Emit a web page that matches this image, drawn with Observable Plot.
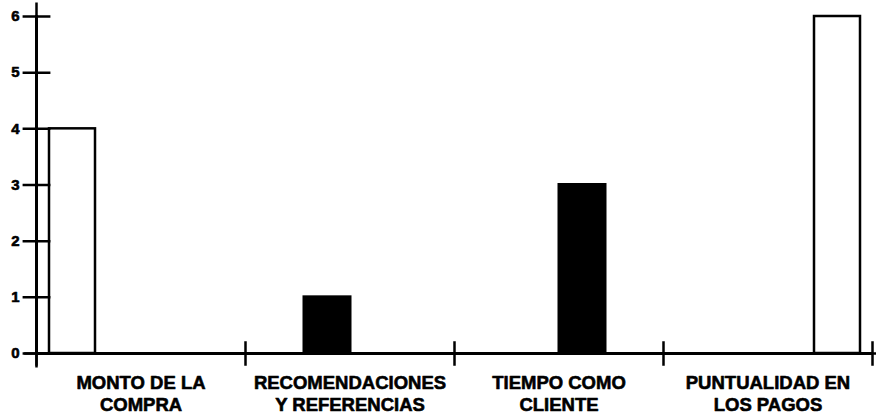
<!DOCTYPE html>
<html>
<head>
<meta charset="utf-8">
<script src="https://cdn.jsdelivr.net/npm/d3@7"></script>
<script src="https://cdn.jsdelivr.net/npm/@observablehq/plot@0.6"></script>
<style>
  html, body { margin: 0; padding: 0; background: #fff; }
</style>
</head>
<body>
<div id="chart"></div>
<script>
// Categories (two-line labels)
const categories = [
  "MONTO DE LA\nCOMPRA",
  "RECOMENDACIONES\nY REFERENCIAS",
  "TIEMPO COMO\nCLIENTE",
  "PUNTUALIDAD EN\nLOS PAGOS"
];
// Series (one per category position)
const seriesNames = ["S1", "S2", "S3", "S4"];
const seriesFill = ["white", "black", "black", "white"];
const s1 = [4, 0, 0, 0];
const s2 = [0, 1, 0, 0];
const s3 = [0, 0, 3, 0];
const s4 = [0, 0, 0, 6];
const yTicks = [0, 1, 2, 3, 4, 5, 6];

const seriesValues = [s1, s2, s3, s4];
const data = [];
seriesValues.forEach((vals, si) => {
  vals.forEach((v, ci) => {
    if (v > 0) data.push({category: categories[ci], series: seriesNames[si], value: v});
  });
});

const chart = Plot.plot({
  width: 876,
  height: 419,
  marginLeft: 35,
  marginRight: 3,
  marginTop: 16,
  marginBottom: 66,
  style: {fontFamily: "'Liberation Sans', Arial, sans-serif", background: "white", color: "black"},
  fx: {domain: categories, padding: 0},
  x: {domain: seriesNames, paddingInner: 0, paddingOuter: 0.24, axis: null},
  y: {domain: [0, 6]},
  color: {domain: seriesNames, range: seriesFill},
  marks: [
    Plot.barY(data, {
      fx: "category", x: "series", y: "value",
      fill: "series",
      stroke: "black",
      strokeWidth: d => d.series === "S1" || d.series === "S4" ? 2.5 : 3
    }),
    Plot.ruleY([0], {stroke: "black", strokeWidth: 3}),
    Plot.frame({anchor: "left", stroke: "black", strokeWidth: 3, facetAnchor: "left"}),
    Plot.dot(yTicks, {y: d => d, frameAnchor: "left", symbol: "plus", r: 9, stroke: "black", strokeWidth: 2.5, facetAnchor: "left"}),
    Plot.dot(categories, {fx: d => d, frameAnchor: "bottom-left", symbol: "plus", r: 8, stroke: "black", strokeWidth: 2.5}),
    Plot.dot([0], {frameAnchor: "bottom-right", symbol: "plus", r: 8, stroke: "black", strokeWidth: 2.5, facetAnchor: "right"}),
    Plot.axisY({ticks: yTicks, tickSize: 0, tickPadding: 17, fontSize: 15, fontWeight: "bold", label: null,
      textStroke: "black", textStrokeWidth: 0.6, tickFormat: d => String(d)}),
    Plot.axisFx({anchor: "bottom", tickSize: 0, tickPadding: 20, fontSize: 18.5, fontWeight: "bold", lineHeight: 1.2,
      textStroke: "black", textStrokeWidth: 0.6, label: null})
  ]
});
document.getElementById("chart").appendChild(chart);
</script>
</body>
</html>
